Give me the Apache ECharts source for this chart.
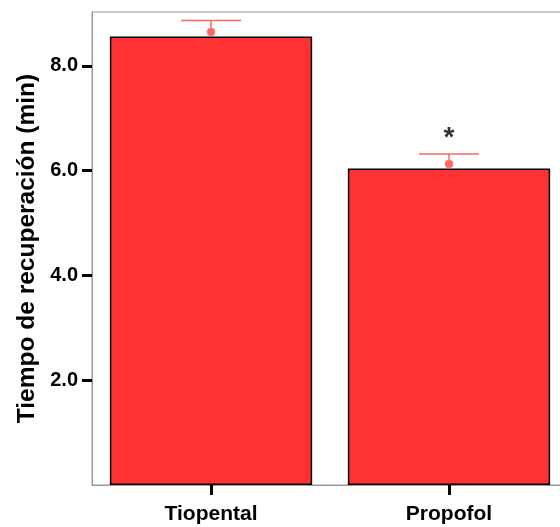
<!DOCTYPE html>
<html>
<head>
<meta charset="utf-8">
<script src="https://cdn.jsdelivr.net/npm/echarts@6/dist/echarts.min.js"></script>
<style>
html,body{margin:0;padding:0;background:#fff;}
#chart{width:560px;height:527px;}
</style>
</head>
<body>
<div id="chart"></div>
<script>
// datos
var grupos=['Tiopental','Propofol'];
var medias=[8.56,6.04];          // altura de las barras
var puntos=[8.65,6.13];          // punto del error
var limiteSup=[8.87,6.32];       // tope de la barra de error
var marcas=['','*'];
var alturaMarca=[0,6.62];
var ticksY=[2,4,6,8];

var chart=echarts.init(document.getElementById('chart'));

var datosError=[];
for(var i=0;i<grupos.length;i++){
	datosError.push([i,puntos[i],limiteSup[i]]);
}
var datosMarca=[];
for(var i=0;i<grupos.length;i++){
	if(marcas[i]!=''){
		datosMarca.push({value:[i,alturaMarca[i]],name:marcas[i]});
	}
}

var option={
	backgroundColor:'#ffffff',
	animation:false,
	grid:{
		left:92,
		top:12,
		width:476,
		height:473,
		outerBoundsMode:'none',
		containLabel:false,
		show:true,
		borderColor:'#999',
		borderWidth:1
	},
	xAxis:{
		type:'category',
		data:grupos,
		axisLine:{lineStyle:{color:'#999',width:1}},
		axisTick:{show:true,alignWithLabel:true,length:10,lineStyle:{color:'#000',width:3}},
		axisLabel:{
			color:'#000',
			fontFamily:'Liberation Sans, Arial',
			fontWeight:'bold',
			fontSize:21,
			margin:19
		}
	},
	yAxis:{
		type:'value',
		min:0,
		max:9.03,
		splitLine:{show:false},
		axisLine:{show:true,lineStyle:{color:'#999',width:1}},
		axisTick:{show:true,length:10,customValues:ticksY,lineStyle:{color:'#000',width:3}},
		axisLabel:{
			customValues:ticksY,
			color:'#000',
			fontFamily:'Liberation Sans, Arial',
			fontWeight:'bold',
			fontSize:20,
			margin:14,
			formatter:function(v){return v.toFixed(1);}
		},
		name:'Tiempo de recuperación (min)',
		nameLocation:'middle',
		nameGap:52,
		nameTextStyle:{
			color:'#000',
			fontFamily:'Liberation Sans, Arial',
			fontWeight:'bold',
			fontSize:24.5
		}
	},
	series:[
		{
			type:'bar',
			data:medias,
			barWidth:'85%',
			itemStyle:{color:'#ff3333',borderColor:'#000',borderWidth:1.5}
		},
		{
			type:'custom',
			data:datosError,
			z:5,
			renderItem:function(params,api){
				var abajo=api.coord([api.value(0),api.value(1)]);
				var arriba=api.coord([api.value(0),api.value(2)]);
				var medio=30;
				return {
					type:'group',
					children:[
						{type:'line',shape:{x1:abajo[0],y1:abajo[1],x2:arriba[0],y2:arriba[1]},style:{stroke:'#ff6666',lineWidth:1.5}},
						{type:'line',shape:{x1:arriba[0]-medio,y1:arriba[1],x2:arriba[0]+medio,y2:arriba[1]},style:{stroke:'#ff6666',lineWidth:1.5}},
						{type:'circle',shape:{cx:abajo[0],cy:abajo[1],r:4},style:{fill:'#ff6666',stroke:'#ff8888',lineWidth:1}}
					]
				};
			}
		},
		{
			type:'scatter',
			data:datosMarca,
			symbolSize:0,
			label:{
				show:true,
				position:'inside',
				formatter:'{b}',
				color:'#000',
				fontFamily:'Liberation Sans, Arial',
				fontWeight:'bold',
				fontSize:28
			}
		}
	]
};
chart.setOption(option);
</script>
</body>
</html>
